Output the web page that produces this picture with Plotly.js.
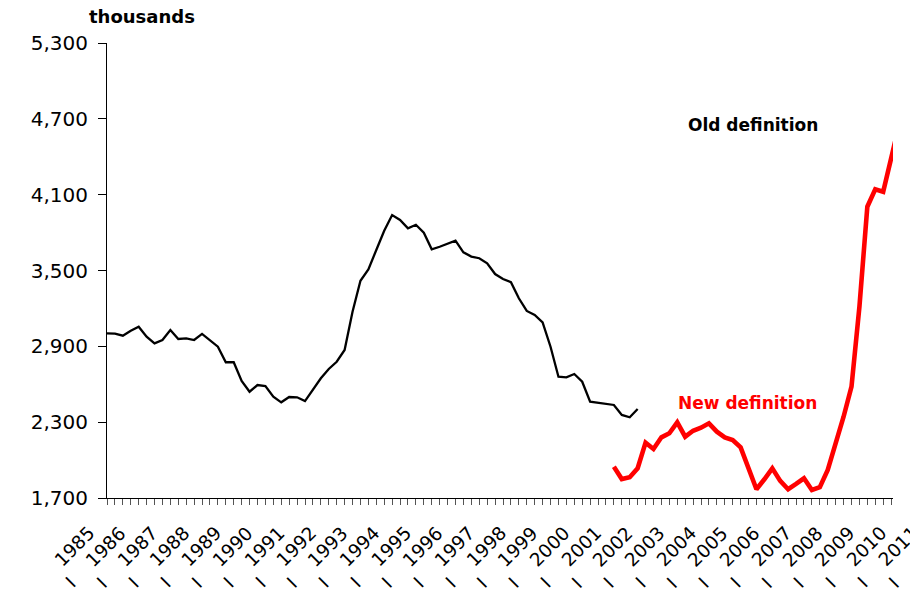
<!DOCTYPE html>
<html>
<head>
<meta charset="utf-8">
<script src="https://cdn.plot.ly/plotly-3.0.1.min.js"></script>
<style>
  html, body { margin: 0; padding: 0; background: #ffffff; }
  #chart { width: 910px; height: 591px; }
</style>
</head>
<body>
<div id="chart"></div>
<script>
// Quarterly series, index 0 = 1985 Q1
const startYear = 1985;

// Old definition: 1985 Q1 .. 2001 Q4 (thousands)
const oldDefinition = [
  3003, 3000, 2984, 3024, 3055, 2976, 2924, 2950, 3029, 2958,
  2963, 2950, 2998, 2950, 2897, 2774, 2774, 2626, 2541, 2594,
  2586, 2501, 2457, 2499, 2497, 2467, 2560, 2647, 2721, 2778,
  2871, 3174, 3419, 3509, 3662, 3815, 3939, 3900, 3834, 3862,
  3799, 3668, 3688, 3715, 3736, 3644, 3610, 3597, 3557, 3472,
  3433, 3407, 3280, 3180, 3148, 3090, 2897, 2660, 2655, 2681,
  2620, 2462, 2454, 2444, 2436, 2357, 2339, 2404
];
const oldStartIndex = 0;

// New definition: 2001 Q1 .. 2010 Q1 (thousands)
const newDefinition = [
  1948, 1850, 1864, 1935, 2138, 2088, 2180, 2212, 2299, 2185,
  2232, 2256, 2291, 2225, 2180, 2159, 2101, 1943, 1769, 1848,
  1935, 1835, 1769, 1811, 1856, 1763, 1785, 1922, 2127, 2343,
  2581, 3214, 4005, 4142, 4123, 4390, 4650
];
const newStartIndex = 64;

// Axis labels
const yTickValues = [1700, 2300, 2900, 3500, 4100, 4700, 5300];
const yearLabels = [1985, 1986, 1987, 1988, 1989, 1990, 1991, 1992, 1993,
  1994, 1995, 1996, 1997, 1998, 1999, 2000, 2001, 2002, 2003, 2004, 2005,
  2006, 2007, 2008, 2009, 2010, 2011];
const quarterLabel = 'I';

const xMax = 99.24;

const oldX = oldDefinition.map((_, i) => oldStartIndex + i);
const newX = newDefinition.map((_, i) => newStartIndex + i);

const traces = [
  { x: oldX, y: oldDefinition, type: 'scatter', mode: 'lines',
    line: { color: '#000000', width: 2.3 }, hoverinfo: 'skip' },
  { x: newX, y: newDefinition, type: 'scatter', mode: 'lines',
    line: { color: '#ff0000', width: 4.6 }, hoverinfo: 'skip' }
];

const font = 'DejaVu Sans, Arial, sans-serif';
const annotations = [];

yearLabels.forEach(y => {
  const c = 4 * (y - startYear);
  annotations.push({
    xref: 'paper', yref: 'paper', x: c / xMax, y: 0,
    xshift: -32.7, yshift: -48.5, xanchor: 'center', yanchor: 'middle',
    text: String(y), textangle: -45, showarrow: false,
    font: { family: font, size: 18.5, color: '#000' }
  });
  annotations.push({
    xref: 'paper', yref: 'paper', x: c / xMax, y: 0,
    xshift: -37, yshift: -84.5, xanchor: 'center', yanchor: 'middle',
    text: quarterLabel, textangle: -45, showarrow: false,
    font: { family: font, size: 18, color: '#000' }
  });
});

annotations.push({
  xref: 'paper', yref: 'paper', x: (142 - 107) / 786, y: (498 - 17) / 455,
  xanchor: 'center', yanchor: 'middle', showarrow: false,
  text: '<b>thousands</b>', font: { family: font, size: 18, color: '#000' }
});
annotations.push({
  xref: 'x', yref: 'y', x: 81.6, y: 4655,
  xanchor: 'center', yanchor: 'middle', showarrow: false,
  text: '<b>Old definition</b>', font: { family: font, size: 17, color: '#000' }
});
annotations.push({
  xref: 'x', yref: 'y', x: 80.9, y: 2452,
  xanchor: 'center', yanchor: 'middle', showarrow: false,
  text: '<b>New definition</b>', font: { family: font, size: 17, color: '#ff0000' }
});

const layout = {
  width: 910, height: 591,
  margin: { l: 107, r: 17, t: 43, b: 93, pad: 0 },
  paper_bgcolor: '#ffffff', plot_bgcolor: '#ffffff',
  showlegend: false,
  xaxis: {
    range: [0, xMax], showgrid: false, zeroline: false,
    showline: true, linecolor: '#000', linewidth: 1,
    ticks: 'outside', ticklen: 6, tickwidth: 1, tickcolor: '#555',
    tick0: 0, dtick: 1, showticklabels: false, fixedrange: true
  },
  yaxis: {
    range: [1700, 5300], tickvals: yTickValues, tickformat: ',',
    showgrid: false, zeroline: false,
    showline: true, linecolor: '#000', linewidth: 1,
    ticks: 'outside', ticklen: 8, tickwidth: 1, tickcolor: '#000',
    ticklabelstandoff: 6,
    tickfont: { family: font, size: 20, color: '#000' }, fixedrange: true
  },
  annotations: annotations
};

Plotly.newPlot('chart', traces, layout, { staticPlot: true, displayModeBar: false });
</script>
</body>
</html>
